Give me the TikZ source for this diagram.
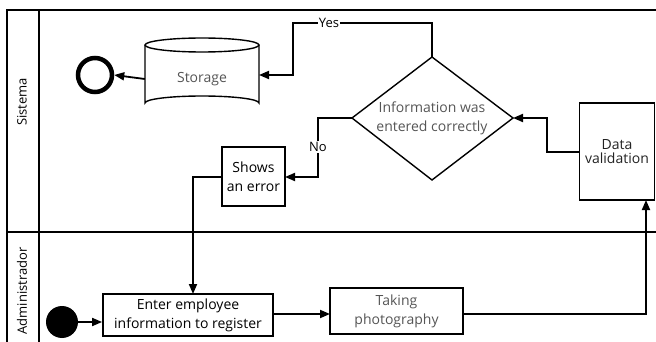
\documentclass[tikz,border=0pt]{standalone}
\usepackage{fontspec}
\setmainfont{Open Sans}
\usetikzlibrary{arrows.meta,calc}
\definecolor{txtgray}{HTML}{555555}
\definecolor{txtdark}{HTML}{222222}
\tikzset{
  x=1pt,y=-1pt,
  frame/.style={line width=2.2pt},
  lane/.style={line width=1.5pt},
  box/.style={draw,line width=1.8pt,rectangle,inner sep=0pt,align=center,font=\fontsize{14}{19}\selectfont},
  flow/.style={line width=1.8pt,-{Triangle[length=10pt,width=8pt]}},
  lbl/.style={fill=white,inner sep=1pt,font=\fontsize{13}{16}\selectfont},
}
\begin{document}
\begin{tikzpicture}
\useasboundingbox (0,0) rectangle (656,342);
% frame
\draw[frame] (656,10) -- (7,10) -- (7,342);
\draw[lane] (39,10) -- (39,342);
\draw[frame] (7,232) -- (656,232);
\node[rotate=90,font=\fontsize{13}{16}\selectfont] (lsis) at (22,102) {Sistema};
\node[rotate=90,font=\fontsize{13}{16}\selectfont] (ladm) at (22,291) {Administrador};
% storage cylinder
\draw[line width=1.4pt,fill=white] (145,45) -- (145,103) arc[start angle=180,end angle=360,x radius=57,y radius=7] -- (259,45);
\draw[line width=1.4pt] (202,45) ellipse[x radius=57,y radius=7];
\node[inner sep=0pt,minimum width=114pt,minimum height=58pt,text=txtgray,font=\fontsize{14}{19}\selectfont] (storage) at (202,79) {Storage};
% end event
\node[circle,draw,line width=4.5pt,minimum size=34pt,inner sep=0pt] (endc) at (95,75) {};
% decision diamond
\coordinate (dtop) at (432,57);
\coordinate (dleft) at (352,118);
\coordinate (dright) at (513,118);
\coordinate (dbot) at (432,180);
\draw[line width=1.4pt] (dtop) -- (dright) -- (dbot) -- (dleft) -- cycle;
\node[align=center,text=txtgray,font=\fontsize{14}{19}\selectfont] (dec) at (432,118) {Information was\\entered correctly};
% boxes
\node[box,minimum width=63pt,minimum height=59pt] (shows) at (253.5,176.5) {Shows\\an error};
\node[box,minimum width=170pt,minimum height=42pt] (enter) at (188,315) {Enter employee\\information to register};
\node[box,minimum width=133pt,minimum height=46pt,text=txtgray] (taking) at (396.5,311) {Taking\\photography};
\node[box,minimum width=75pt,minimum height=97pt,text=txtdark] (dv) at (617,151.5) {\raisebox{-8pt}{\shortstack{Data\\validation}}};
% start event
\node[circle,fill=black,minimum size=32pt,inner sep=0pt] (start) at (62,322) {};
% connectors
\draw[flow] (storage.west) -- (endc.east);
\coordinate (y1) at (432,23);
\coordinate (y2) at (293,23);
\coordinate (sE) at (259,75);
\draw[flow] (dtop) -- (y1) -- (y2) |- (sE);
\node[lbl] (yes) at (329,23) {Yes};
\coordinate (n1) at (318,118);
\coordinate (shE) at (285,177);
\draw[flow] (dleft) -- (n1) |- (shE);
\node[lbl] (no) at (318,147) {No};
\coordinate (shW) at (222,177);
\coordinate (enN) at (193,294);
\draw[flow] (shW) -| (enN);
\draw[flow] (start.east) -- (enter.west |- start.east);
\coordinate (enE) at (273,314);
\coordinate (tkW) at (330,314);
\draw[flow] (enE) -- (tkW);
\coordinate (tkE) at (463,314);
\coordinate (dvS) at (646,200);
\draw[flow] (tkE) -| (dvS);
\coordinate (dvW) at (579.5,152);
\coordinate (v1) at (547,152);
\draw[flow] (dvW) -- (v1) |- (dright);
\end{tikzpicture}
\end{document}
